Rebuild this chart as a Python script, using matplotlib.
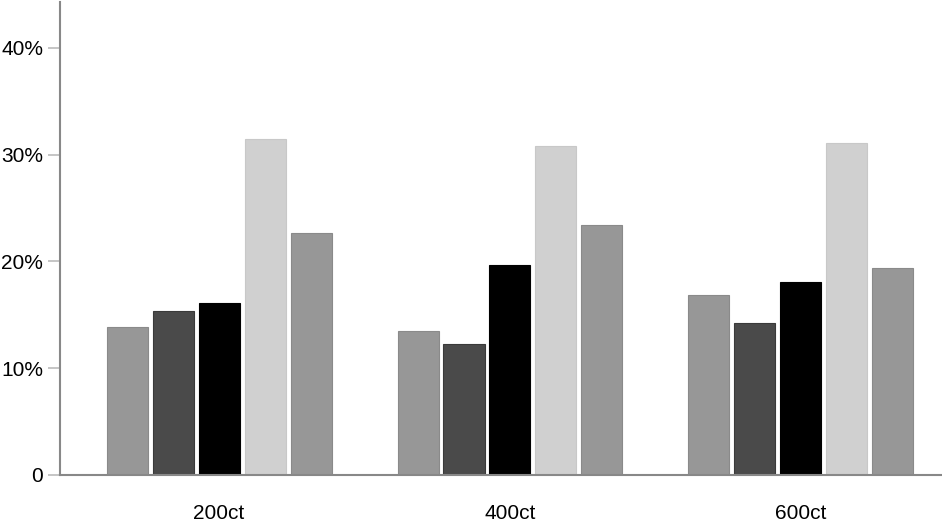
import matplotlib
matplotlib.use("Agg")
import matplotlib.pyplot as plt
import numpy as np

categories = ["200ct", "400ct", "600ct"]
series_a = [13.9, 13.5, 16.9]
series_b = [15.4, 12.3, 14.2]
series_c = [16.1, 19.7, 18.1]
series_d = [31.5, 30.8, 31.1]
series_e = [22.7, 23.4, 19.4]
series = [series_a, series_b, series_c, series_d, series_e]
colors = ["#979797", "#4a4a4a", "#000000", "#d0d0d0", "#979797"]
edges = ["#8a8a8a", "#3a3a3a", "#000000", "#c8c8c8", "#8a8a8a"]
yticks = [0, 10, 20, 30, 40]
ytick_labels = ["0", "10%", "20%", "30%", "40%"]

plt.rcParams['font.family'] = ['Liberation Sans', 'DejaVu Sans']
fig = plt.figure(figsize=(9.42, 5.22), dpi=100)
ax = fig.add_axes([60/942, 47/522, 881/942, 473/522])

x = np.arange(len(categories))
step = 0.158
width = 0.141
for i, vals in enumerate(series):
    ax.bar(x + (i - 2) * step, vals, width=width, color=colors[i],
           edgecolor=edges[i], linewidth=0.8)

ax.set_xlim(-0.547, 2.482)
ax.set_ylim(0, 44.3)
ax.set_yticks(yticks)
ax.set_yticklabels(ytick_labels, fontsize=15)
ax.set_xticks(x)
ax.set_xticklabels(categories, fontsize=15)
ax.tick_params(axis='x', length=0, pad=21)
ax.tick_params(axis='y', length=9, width=1.2, color="#bbbbbb", pad=3)
for s in ["top", "right"]:
    ax.spines[s].set_visible(False)
for s in ["left", "bottom"]:
    ax.spines[s].set_color("#888888")
    ax.spines[s].set_linewidth(1.5)

fig.savefig("out.png", dpi=100)
